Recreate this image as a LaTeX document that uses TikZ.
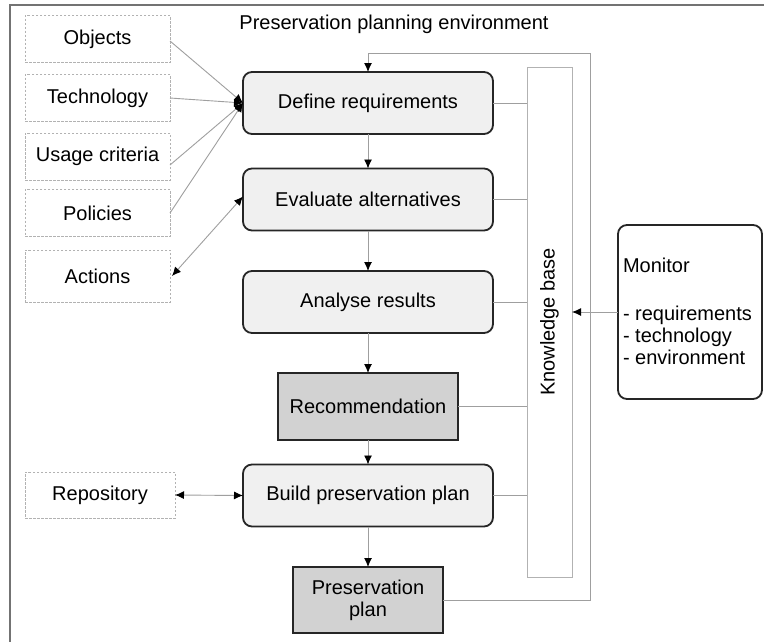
\documentclass[tikz,border=0pt]{standalone}
\usepackage{fontspec}
\setmainfont{Liberation Sans}
\usetikzlibrary{arrows.meta}
\begin{document}
\begin{tikzpicture}[x=1pt,y=-1pt,
  font=\fontsize{20}{23}\selectfont,
  every node/.style={inner sep=0pt,outer sep=0pt},
  inbox/.style={draw=gray!60,dashed,line width=0.8pt,dash pattern=on 2.5pt off 1.5pt,minimum width=145pt,minimum height=47pt},
  procbox/.style={draw=black!85,line width=1.8pt,rounded corners=9pt,fill=gray!12,minimum width=250pt,minimum height=62pt},
  outbox/.style={draw=black!85,line width=1.8pt,fill=gray!35},
  conn/.style={draw=gray!75,line width=0.9pt},
  arr/.style={conn,-{Latex[length=9pt,width=8pt,color=black]}},
  darr/.style={conn,{Latex[length=9pt,width=8pt,color=black]}-{Latex[length=9pt,width=8pt,color=black]}}
]
\useasboundingbox (0,0) rectangle (764,641);
\fill[white] (0,0) rectangle (764,641);
% outer frame (left and top edges)
\draw[black!55,line width=2pt] (10,645) -- (10,5) -- (770,5);

\node (title) at (394,24) {Preservation planning environment};

% input boxes
\node[inbox] (obj) at (97.5,39) {Objects};
\node[inbox] (tech) at (97.5,98) {Technology};
\node[inbox] (usage) at (97.5,156.5) {Usage criteria};
\node[inbox] (pol) at (97.5,213) {Policies};
\node[inbox,minimum height=52pt] (act) at (97.5,276) {Actions};
\node[inbox,minimum width=150pt,minimum height=46pt] (repo) at (100,495) {Repository};

% process boxes
\node[procbox] (def) at (368,103) {Define requirements};
\node[procbox] (eval) at (368,199.5) {Evaluate alternatives};
\node[procbox] (ana) at (368,302) {Analyse results};
\node[outbox,minimum width=180pt,minimum height=67pt] (rec) at (368,406.5) {Recommendation};
\node[procbox] (build) at (368,495.5) {Build preservation plan};
\node[outbox,minimum width=150pt,minimum height=66pt,align=center] (plan) at (368,600) {Preservation\\[-1pt]plan};

% knowledge base
\node[draw=gray!60,line width=0.9pt,minimum width=45pt,minimum height=510pt] (kb) at (549.5,322) {};
\node[rotate=90] (kbt) at (549.5,322) {Knowledge base};

% monitor
\node[draw=black!85,line width=1.8pt,rounded corners=9pt,minimum width=144pt,minimum height=174pt] (mon) at (690,312) {};
\node[anchor=west,align=left] (mont) at (623,265) {Monitor};
\node[anchor=west,align=left] (monl) at (623,335) {- requirements\\[-1pt]- technology\\[-1pt]- environment};

% inputs to define requirements
\coordinate (defin) at (def.west);
\draw[arr] (obj.east) ++(0,2) -- (defin);
\draw[arr] (tech.east) -- (defin);
\draw[arr] (usage.east) ++(0,8.5) -- (defin);
\draw[arr] (pol.east) -- (defin);
\draw[darr] (act.east) ++(2,0) -- ([yshift=3pt]eval.west);
\draw[darr] (repo.east) -- (build.west);

% main flow
\draw[arr] (def.south) -- (eval.north);
\draw[arr] (eval.south) -- (ana.north);
\draw[arr] (ana.south) -- (rec.north);
\draw[arr] (rec.south) -- (build.north);
\draw[arr] (build.south) -- (plan.north);

% links to knowledge base
\draw[conn] (def.east) -- (def.east -| kb.west);
\draw[conn] (eval.east) -- (eval.east -| kb.west);
\draw[conn] (ana.east) -- (ana.east -| kb.west);
\draw[conn] (rec.east) -- (rec.east -| kb.west);
\draw[conn] (build.east) -- (build.east -| kb.west);

% feedback loop
\coordinate (fbr) at (590,600);
\coordinate (fbt) at (590,53);
\draw[arr] (plan.east) -- (fbr) -- (fbt) -- (fbt -| def.north) -- (def.north);

% monitor to knowledge base
\draw[arr] (mon.west) -- (mon.west -| kb.east);
\end{tikzpicture}
\end{document}
